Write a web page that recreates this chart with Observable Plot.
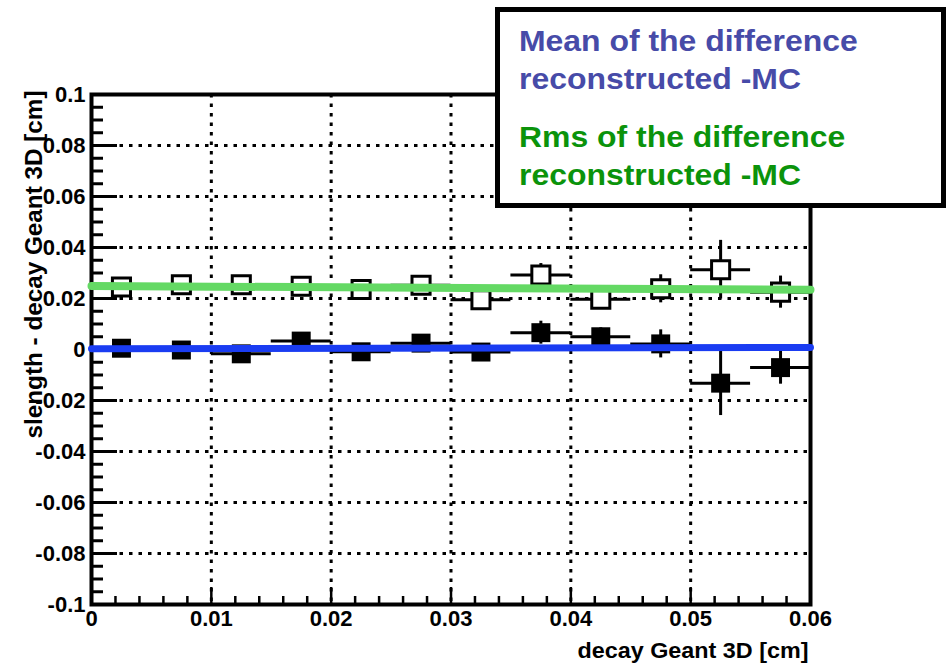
<!DOCTYPE html>
<html><head><meta charset="utf-8">
<script src="https://cdn.jsdelivr.net/npm/d3@7"></script>
<script src="https://cdn.jsdelivr.net/npm/@observablehq/plot@0.6"></script>
<style>
body{margin:0;background:#fff;}
#wrap{position:relative;width:948px;height:663px;overflow:hidden;font-family:"Liberation Sans",Arial,Helvetica,sans-serif;background:#fff;}
#legend{position:absolute;left:495px;top:7px;width:441px;height:191px;border:5px solid #000;background:#fff;}
.lg{position:absolute;left:19px;font-weight:bold;font-size:30px;line-height:1;white-space:nowrap;transform:scaleX(1.064);transform-origin:0 0;}
.blue{color:#474ba8;}
.green{color:#0b930b;}
</style></head><body><div id="wrap"><div id="legend">
<div class="lg blue" style="top:13.6px">Mean of the difference</div>
<div class="lg blue" style="top:51.6px">reconstructed -MC</div>
<div class="lg green" style="top:109.6px">Rms of the difference</div>
<div class="lg green" style="top:147.6px">reconstructed -MC</div>
</div></div>
<script>
// bin centers (decay Geant 3D [cm]) and half bin width
const binCenters = [0.0025, 0.0075, 0.0125, 0.0175, 0.0225, 0.0275, 0.0325, 0.0375, 0.0425, 0.0475, 0.0525, 0.0575];
const binHalfWidth = 0.0025;
// open squares (RMS)
const rmsValues = [0.0245, 0.0254, 0.0254, 0.0248, 0.0235, 0.0252, 0.0195, 0.0292, 0.0197, 0.0238, 0.0313, 0.0225];
const rmsErrors = [0.003, 0.003, 0.003, 0.003, 0.003, 0.003, 0.003, 0.0045, 0.0035, 0.0055, 0.0115, 0.0063];
// filled squares (mean)
const meanValues = [0.0005, -0.0002, -0.0017, 0.0033, -0.0009, 0.0025, -0.001, 0.0066, 0.005, 0.0022, -0.0132, -0.0071];
const meanErrors = [0.003, 0.003, 0.003, 0.003, 0.003, 0.003, 0.003, 0.0045, 0.0035, 0.0055, 0.0127, 0.0065];
// fitted lines
const fitX = [0, 0.06];
const rmsFitY = [0.0249, 0.0234];
const meanFitY = [0.0003, 0.0008];
// axes
const xTicks = [0, 0.01, 0.02, 0.03, 0.04, 0.05, 0.06];
const xTickLabels = ["0", "0.01", "0.02", "0.03", "0.04", "0.05", "0.06"];
const xMinorTicks = [0.002, 0.004, 0.006, 0.008, 0.012, 0.014, 0.016, 0.018, 0.022, 0.024, 0.026, 0.028, 0.032, 0.034, 0.036, 0.038, 0.042, 0.044, 0.046, 0.048, 0.052, 0.054, 0.056, 0.058];
const xGrid = [0.01, 0.02, 0.03, 0.04, 0.05];
const yTicks = [-0.1, -0.08, -0.06, -0.04, -0.02, 0, 0.02, 0.04, 0.06, 0.08, 0.1];
const yTickLabels = ["-0.1", "-0.08", "-0.06", "-0.04", "-0.02", "0", "0.02", "0.04", "0.06", "0.08", "0.1"];
const yMinorTicks = [-0.095, -0.09, -0.085, -0.075, -0.07, -0.065, -0.055, -0.05, -0.045, -0.035, -0.03, -0.025, -0.015, -0.01, -0.005, 0.005, 0.01, 0.015, 0.025, 0.03, 0.035, 0.045, 0.05, 0.055, 0.065, 0.07, 0.075, 0.085, 0.09, 0.095];
const yGrid = [-0.08, -0.06, -0.04, -0.02, 0, 0.02, 0.04, 0.06, 0.08];
const xTitle = "decay Geant 3D [cm]";
const yTitle = "slength - decay Geant 3D [cm]";

const rmsPts = binCenters.map((x, i) => ({x, y: rmsValues[i], e: rmsErrors[i]}));
const meanPts = binCenters.map((x, i) => ({x, y: meanValues[i], e: meanErrors[i]}));
const rmsFit = fitX.map((x, i) => ({x, y: rmsFitY[i]}));
const meanFit = fitX.map((x, i) => ({x, y: meanFitY[i]}));

const W = 948, H = 663, ML = 91, MR = 138, MT = 94, MB = 59;
const PW = W - ML - MR, PH = H - MT - MB;
const lab = (ticks, labels) => d => labels[ticks.findIndex(t => Math.abs(t - d) < 1e-9)];
const grid = {stroke: "#000", strokeWidth: 3, strokeDasharray: "3.5,6"};

const chart = Plot.plot({
  width: W, height: H,
  marginLeft: ML, marginRight: MR, marginTop: MT, marginBottom: MB,
  x: {domain: [0, 0.06]},
  y: {domain: [-0.1, 0.1]},
  style: {fontFamily: "'Liberation Sans', Arial, Helvetica, sans-serif", background: "white", color: "black"},
  marks: [
    Plot.ruleX(xGrid, grid),
    Plot.ruleY(yGrid, grid),
    Plot.frame({stroke: "#000", strokeWidth: 4}),
    Plot.tickY(yTicks, {y: d => d, insetRight: PW - 26, stroke: "#000", strokeWidth: 3}),
    Plot.tickY(yMinorTicks, {y: d => d, insetRight: PW - 12, stroke: "#000", strokeWidth: 3}),
    Plot.tickX(xTicks, {x: d => d, insetTop: PH - 17, stroke: "#000", strokeWidth: 2.5}),
    Plot.tickX(xMinorTicks, {x: d => d, insetTop: PH - 8, stroke: "#000", strokeWidth: 2.5}),
    Plot.axisY({ticks: yTicks, tickFormat: lab(yTicks, yTickLabels), tickSize: 0, tickPadding: 6, fontSize: 22, fontWeight: "bold", label: null, anchor: "left"}),
    Plot.axisX({ticks: xTicks, tickFormat: lab(xTicks, xTickLabels), tickSize: 0, tickPadding: 6, fontSize: 22, fontWeight: "bold", label: null, anchor: "bottom"}),
    Plot.text([xTitle], {text: d => d, frameAnchor: "bottom-right", dx: -2, dy: 46, textAnchor: "end", lineAnchor: "middle", fontSize: 22, fontWeight: "bold", fill: "#000"}),
    Plot.text([yTitle], {text: d => d, frameAnchor: "top-left", dx: -56.5, dy: -4, rotate: -90, textAnchor: "end", lineAnchor: "middle", fontSize: 23, fontWeight: "bold", fill: "#000"}),
    // error bars
    Plot.ruleX(rmsPts, {x: "x", y1: d => d.y - d.e, y2: d => d.y + d.e, stroke: "#000", strokeWidth: 3}),
    Plot.ruleY(rmsPts, {y: "y", x1: d => d.x - binHalfWidth, x2: d => d.x + binHalfWidth, stroke: "#000", strokeWidth: 3}),
    Plot.ruleX(meanPts, {x: "x", y1: d => d.y - d.e, y2: d => d.y + d.e, stroke: "#000", strokeWidth: 3}),
    Plot.ruleY(meanPts, {y: "y", x1: d => d.x - binHalfWidth, x2: d => d.x + binHalfWidth, stroke: "#000", strokeWidth: 3}),
    Plot.dot(rmsPts, {x: "x", y: "y", symbol: "square", r: 10.2, stroke: "#000", strokeWidth: 3, fill: "white"}),
    Plot.dot(meanPts, {x: "x", y: "y", symbol: "square", r: 10.7, fill: "#000", stroke: "none"}),
    // fits
    Plot.line(rmsFit, {x: "x", y: "y", stroke: "#64d964", strokeWidth: 8}),
    Plot.line(meanFit, {x: "x", y: "y", stroke: "#1a3cf2", strokeWidth: 7})
  ]
});
const wrap = document.getElementById("wrap");
wrap.insertBefore(chart, wrap.firstChild);
d3.select(chart).selectAll("text").each(function() {
  if (this.textContent === xTitle) d3.select(this).attr("textLength", 231).attr("lengthAdjust", "spacingAndGlyphs");
  if (this.textContent === yTitle) d3.select(this).attr("textLength", 348).attr("lengthAdjust", "spacingAndGlyphs");
});
</script>
</body></html>
